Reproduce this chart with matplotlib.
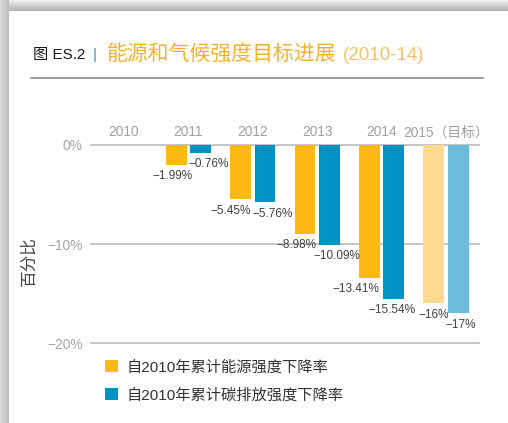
import numpy as np
import matplotlib
matplotlib.use("Agg")
import matplotlib.pyplot as plt
from matplotlib import font_manager

# pick a narrow latin face if there is one, CJK after it
names = {f.name for f in font_manager.fontManager.ttflist}
narrow = "Liberation Sans Narrow" in names
latin = "Liberation Sans Narrow" if narrow else "Liberation Sans"
plt.rcParams['font.family'] = [latin, 'Noto Sans CJK SC', 'DejaVu Sans']
k = 1.0 if narrow else 0.9

years = ['2010', '2011', '2012', '2013', '2014', '2015（目标）']
energy = [np.nan, -1.99, -5.45, -8.98, -13.41, -16]
carbon = [np.nan, -0.76, -5.76, -10.09, -15.54, -17]
series_names = ['自2010年累计能源强度下降率', '自2010年累计碳排放强度下降率']
yticks = [0, -10, -20]

# sideways nudge of each value label from its bar centre, in pixels
nudge_e = [0, -4, -10, -9, -14, 0]
nudge_c = [0, 8, 8, 7, -2, 2]

orange, orange_lt = '#FDB913', '#FFD98E'
blue, blue_lt = '#0092C4', '#6CBDDC'

fig = plt.figure(figsize=(5.08, 4.23), dpi=100)

# page shadow along the left and top edges
bg = fig.add_axes([0, 0, 1, 1], zorder=-10)
H, W = 423, 508
img = np.ones((H, W))
xx = np.arange(W)[None, :].repeat(H, 0)
yy = np.arange(H)[:, None].repeat(W, 1)
left = xx < 9
top = yy < 11
img[left] = 0.86 - 0.12 * (xx[left] / 9.0)
img[top & ~left] = 0.93 - 0.25 * (yy[top & ~left] / 11.0)
bg.imshow(img, cmap='gray', vmin=0, vmax=1, aspect='auto', interpolation='nearest')
bg.axis('off')

ax = fig.add_axes([91 / 508, 80 / 423, 388 / 508, 198 / 423])
ax.set_facecolor('none')
x = np.arange(len(years))
w = 0.325
off = 0.19
c1 = [orange] * 5 + [orange_lt]
c2 = [blue] * 5 + [blue_lt]
b1 = ax.bar(x - off, energy, w, color=c1, zorder=3)
b2 = ax.bar(x + off, carbon, w, color=c2, zorder=3)

fs = 9.4 * k
for i in range(1, len(years)):
    ax.annotate(f"−{abs(energy[i]):g}%", xy=(x[i] - off, energy[i]),
                xytext=(nudge_e[i] * 0.72, -4), textcoords='offset points',
                ha='center', va='top', fontsize=fs, color='#404040')
    ax.annotate(f"−{abs(carbon[i]):g}%", xy=(x[i] + off, carbon[i]),
                xytext=(nudge_c[i] * 0.72, -4), textcoords='offset points',
                ha='center', va='top', fontsize=fs, color='#404040')

ax.set_xlim(-0.51, 5.51)
ax.set_ylim(-20, 0)
ax.set_yticks(yticks)
ax.set_yticklabels([f"{'−' if t < 0 else ''}{abs(t)}%" for t in yticks])
ax.grid(axis='y', color='#BBBBBB', linewidth=1.2, zorder=0)
for s in ax.spines.values():
    s.set_visible(False)
ax.tick_params(axis='y', length=0, pad=6, labelsize=11 * k, labelcolor='#A5A5A5')
ax.set_xticks(x)
ax.set_xticklabels(years)
ax.tick_params(axis='x', length=0, top=True, labeltop=True, bottom=False,
               labelbottom=False, pad=4, labelsize=11 * k, labelcolor='#A0A0A0')
for gl in ax.get_ygridlines():
    gl.set_clip_on(False)

ax.set_ylabel('百分比', fontsize=12, color='#444444')
ax.yaxis.set_label_coords(-54 / 388, 0.414)

leg = ax.legend([b1[1], b2[1]], series_names, loc='upper left',
                bbox_to_anchor=(105 / 508, 1 - 360 / 423), bbox_transform=fig.transFigure,
                frameon=False, fontsize=11, handlelength=0.85, handleheight=0.85,
                handletextpad=0.55, labelspacing=0.9, borderpad=0, borderaxespad=0)
for t in leg.get_texts():
    t.set_color('#333333')

# heading
fig.text(33 / 508, 1 - 55 / 423, '图 ES.2', fontsize=11, color='#1A1A1A',
         va='center', ha='left')
fig.text(93 / 508, 1 - 55 / 423, '|', fontsize=11, color='#4A90C0', va='center', ha='left')
t1 = fig.text(107 / 508, 1 - 55 / 423, '能源和气候强度目标进展', fontsize=15,
              color='#F7B02C', fontweight='medium', va='center', ha='left')
fig.canvas.draw()
bb = t1.get_window_extent().transformed(fig.transFigure.inverted())
fig.text(bb.x1 + 6 / 508, 1 - 55 / 423, '(2010-14)', fontsize=15 * k,
         color='#F9C260', va='center', ha='left')
fig.add_artist(plt.Line2D([31 / 508, 483 / 508], [1 - 78 / 423] * 2,
                          color='#8A8A8A', linewidth=1.2, transform=fig.transFigure))

fig.savefig('out.png', dpi=100)
